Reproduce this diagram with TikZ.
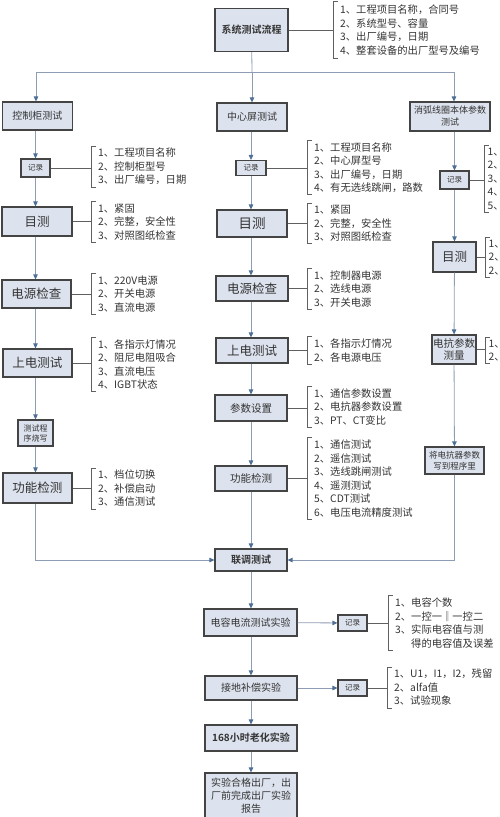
\documentclass[tikz,border=0pt]{standalone}
\usepackage{fontspec}
\setmainfont{Noto Sans CJK SC}[BoldFont={Noto Sans CJK SC Bold}]
\usetikzlibrary{arrows.meta}

\definecolor{boxfill}{HTML}{DDE3EE}
\definecolor{boxline}{HTML}{444444}
\definecolor{flowline}{HTML}{8D9DB3}
\definecolor{flowtip}{HTML}{4F6F97}
\definecolor{txt}{HTML}{333333}

\tikzset{
  stage/.style={draw=boxline, fill=boxfill, line width=1.1pt, align=center,
    inner sep=1pt, text=txt, font=\fontsize{10}{12}\selectfont},
  big/.style={font=\fontsize{12.5}{14}\selectfont},
  tiny/.style={font=\fontsize{7.5}{10}\selectfont},
  note/.style={align=left, anchor=west, inner xsep=7pt, inner ysep=2pt,
    text=txt, font=\fontsize{10.3}{13.5}\selectfont},
  flow/.style={draw=flowline, line width=0.8pt,
    -{Triangle[length=5pt,width=4.5pt,color=flowtip]}},
  tie/.style={draw=boxline!85, line width=0.8pt},
  brace/.style={draw=boxline!85, line width=0.8pt},
}

\begin{document}
\begin{tikzpicture}[x=1pt,y=-1pt]
  \useasboundingbox (0,0) rectangle (500,817);
  \clip (0,0) rectangle (500,817);

  % top of the flow
  \node[stage, font=\bfseries\fontsize{10}{12}\selectfont, minimum width=73, minimum height=43] (sys) at (251.5,30) {系统测试流程};
  \node[note, minimum height=56] (Lsys) at (333,30) {1、工程项目名称，合同号\\2、系统型号、容量\\3、出厂编号，日期\\4、整套设备的出厂型号及编号};

  % split into three branches
  \coordinate (split) at (252,72);
  \coordinate (splitL) at (36,72);
  \coordinate (splitR) at (454,72);

  % left branch: control cabinet
  \node[stage, minimum width=70, minimum height=28] (cab) at (37.5,116) {控制柜测试};
  \node[stage, tiny, minimum width=29, minimum height=18] (cabrec) at (35.5,168) {记录};
  \node[note] (Lcabrec) at (91,166.5) {1、工程项目名称\\2、控制柜型号\\3、出厂编号，日期};
  \node[stage, big, minimum width=70, minimum height=29] (cabeye) at (37,221.5) {目测};
  \node[note] (Lcabeye) at (91,222) {1、紧固\\2、完整，安全性\\3、对照图纸检查};
  \node[stage, big, minimum width=69, minimum height=28] (cabpwr) at (36.5,294) {电源检查};
  \node[note] (Lcabpwr) at (91,294) {1、220V电源\\2、开关电源\\3、直流电源};
  \node[stage, big, minimum width=69, minimum height=28] (cabon) at (37.5,363) {上电测试};
  \node[note] (Lcabon) at (91,364.5) {1、各指示灯情况\\2、阻尼电阻吸合\\3、直流电压\\4、IGBT状态};
  \node[stage, font=\fontsize{8}{10}\selectfont, minimum width=35, minimum height=26] (cabprog) at (35.5,433) {测试程\\序烧写};
  \node[stage, big, minimum width=69, minimum height=30] (cabfun) at (37.5,488) {功能检测};
  \node[note] (Lcabfun) at (91,488.5) {1、档位切换\\2、补偿启动\\3、通信测试};

  % middle branch: central screen
  \node[stage, minimum width=70, minimum height=28] (scr) at (252,117) {中心屏测试};
  \node[stage, tiny, minimum width=30, minimum height=15] (scrrec) at (251,168) {记录};
  \node[note] (Lscrrec) at (307,167.5) {1、工程项目名称\\2、中心屏型号\\3、出厂编号，日期\\4、有无选线跳闸，路数};
  \node[stage, big, font=\fontsize{13.5}{15}\selectfont, minimum width=70, minimum height=27] (screye) at (252,223.5) {目测};
  \node[note] (Lscreye) at (307,223.5) {1、紧固\\2、完整，安全性\\3、对照图纸检查};
  \node[stage, big, minimum width=72, minimum height=25] (scrpwr) at (252,288.5) {电源检查};
  \node[note] (Lscrpwr) at (307,289) {1、控制器电源\\2、选线电源\\3、开关电源};
  \node[stage, big, minimum width=72, minimum height=25] (scron) at (252,350.5) {上电测试};
  \node[note] (Lscron) at (307,350.5) {1、各指示灯情况\\2、各电源电压};
  \node[stage, font=\fontsize{10.5}{12}\selectfont, minimum width=72, minimum height=26] (scrpar) at (251,408) {参数设置};
  \node[note] (Lscrpar) at (307,407) {1、通信参数设置\\2、电抗器参数设置\\3、PT、CT变比};
  \node[stage, font=\fontsize{10.5}{12}\selectfont, minimum width=72, minimum height=25] (scrfun) at (251,478.5) {功能检测};
  \node[note] (Lscrfun) at (307,478.5) {1、通信测试\\2、遥信测试\\3、选线跳闸测试\\4、遥测测试\\5、CDT测试\\6、电压电流精度测试};

  % right branch: arc suppression coil
  \node[stage, font=\fontsize{9}{12}\selectfont, minimum width=80, minimum height=29] (coil) at (450,116.5) {消弧线圈本体参数\\测试};
  \node[stage, tiny, minimum width=29, minimum height=18] (coilrec) at (454.5,180) {记录};
  \node[note, inner xsep=3.5pt] (Lcoilrec) at (484,179) {1、\\2、\\3、\\4、\\5、};
  \node[stage, big, minimum width=43, minimum height=30] (coileye) at (454.5,257) {目测};
  \node[note, inner xsep=3.5pt] (Lcoileye) at (485,257.5) {1、\\2、\\2、};
  \node[stage, font=\fontsize{10.5}{12.5}\selectfont, minimum width=44, minimum height=29] (coilmeas) at (454,349.5) {电抗参数\\测量};
  \node[note, inner xsep=3.5pt] (Lcoilmeas) at (485,350.5) {1、\\2、};
  \node[stage, font=\fontsize{8.5}{10.5}\selectfont, minimum width=59, minimum height=27] (coilwrite) at (454.5,460.5) {将电抗器参数\\写到程序里};

  % joint test and the rest of the flow
  \node[stage, font=\bfseries\fontsize{10}{12}\selectfont, minimum width=72, minimum height=22] (joint) at (251,560) {联调测试};
  \node[stage, minimum width=93, minimum height=27] (cap) at (250.5,622.5) {电容电流测试实验};
  \node[stage, tiny, minimum width=29, minimum height=16] (caprec) at (352.5,623) {记录};
  \node[note] (Lcaprec) at (388,623) {1、电容个数\\2、一控一‖一控二\\3、实际电容值与测\\\phantom{3、}得的电容值及误差};
  \node[stage, minimum width=92, minimum height=24] (gnd) at (251,688) {接地补偿实验};
  \node[stage, tiny, minimum width=29, minimum height=16] (gndrec) at (352.5,688) {记录};
  \node[note] (Lgndrec) at (387,687.5) {1、U1，I1，I2，残留\\2、alfa值\\3、试验现象};
  \node[stage, font=\bfseries\fontsize{10}{12}\selectfont, minimum width=92, minimum height=26] (aging) at (251,738) {168小时老化实验};
  \node[stage, font=\fontsize{10}{13}\selectfont, minimum width=92, minimum height=46] (done) at (251,796) {实验合格出厂，出\\厂前完成出厂实验\\报告};

  % brackets in front of the lists
  \foreach \l in {Lsys,Lcabrec,Lcabeye,Lcabpwr,Lcabon,Lcabfun,Lscrrec,Lscreye,Lscrpwr,Lscron,Lscrpar,Lscrfun,Lcoilrec,Lcoileye,Lcoilmeas,Lcaprec,Lgndrec}
    \draw[brace] ([xshift=5pt]\l.north west) -- (\l.north west) -- (\l.south west) -- ([xshift=5pt]\l.south west);

  % ties from the boxes to their lists
  \draw[tie] (sys) -- (sys -| Lsys.west);
  \draw[tie] (cabrec) -- (cabrec -| Lcabrec.west);
  \draw[tie] (cabeye) -- (cabeye -| Lcabeye.west);
  \draw[tie] (cabpwr) -- (cabpwr -| Lcabpwr.west);
  \draw[tie] (cabon) -- (cabon -| Lcabon.west);
  \draw[tie] (cabfun) -- (cabfun -| Lcabfun.west);
  \draw[tie] (scrrec) -- (scrrec -| Lscrrec.west);
  \draw[tie] (screye) -- (screye -| Lscreye.west);
  \draw[tie] (scrpwr) -- (scrpwr -| Lscrpwr.west);
  \draw[tie] (scron) -- (scron -| Lscron.west);
  \draw[tie] (scrpar) -- (scrpar -| Lscrpar.west);
  \draw[tie] (scrfun) -- (scrfun -| Lscrfun.west);
  \draw[tie] (coilrec) -- (coilrec -| Lcoilrec.west);
  \draw[tie] (coileye) -- (coileye -| Lcoileye.west);
  \draw[tie] (coilmeas) -- (coilmeas -| Lcoilmeas.west);
  \draw[tie] (caprec) -- (caprec -| Lcaprec.west);
  \draw[tie] (gndrec) -- (gndrec -| Lgndrec.west);

  % top split
  \draw[flow, -] (sys) -- (split);
  \draw[flow, -] (splitL) -- (splitR);
  \draw[flow] (splitL) -- (splitL |- cab.north);
  \draw[flow] (split) -- (split |- scr.north);
  \draw[flow] (splitR) -- (splitR |- coil.north);

  % left column
  \draw[flow] (cab.south -| cabrec) -- (cabrec);
  \draw[flow] (cabrec) -- (cabrec |- cabeye.north);
  \draw[flow] (cabeye.south -| cabrec) -- (cabrec |- cabpwr.north);
  \draw[flow] (cabpwr.south -| cabrec) -- (cabrec |- cabon.north);
  \draw[flow] (cabon.south -| cabrec) -- (cabprog);
  \draw[flow] (cabprog) -- (cabprog |- cabfun.north);
  \draw[flow] (cabfun.south -| cabprog) |- (joint);

  % middle column
  \draw[flow] (scr.south -| scrrec) -- (scrrec);
  \draw[flow] (scrrec) -- (scrrec |- screye.north);
  \draw[flow] (screye.south -| scrrec) -- (scrrec |- scrpwr.north);
  \draw[flow] (scrpwr.south -| scrrec) -- (scrrec |- scron.north);
  \draw[flow] (scron.south -| scrrec) -- (scrrec |- scrpar.north);
  \draw[flow] (scrpar.south -| scrrec) -- (scrrec |- scrfun.north);
  \draw[flow] (scrfun.south -| scrrec) -- (scrrec |- joint.north);

  % right column
  \draw[flow] (coil.south -| coilrec) -- (coilrec);
  \draw[flow] (coilrec) -- (coileye);
  \draw[flow] (coileye) -- (coilmeas);
  \draw[flow] (coilmeas) -- (coilwrite);
  \draw[flow] (coilwrite) |- (joint);

  % bottom part
  \draw[flow] (joint) -- (joint |- cap.north);
  \draw[flow] (cap) -- (caprec);
  \draw[flow] (cap.south -| joint) -- (joint |- gnd.north);
  \draw[flow] (gnd) -- (gndrec);
  \draw[flow] (gnd) -- (aging);
  \draw[flow] (aging) -- (done);

\end{tikzpicture}
\end{document}
